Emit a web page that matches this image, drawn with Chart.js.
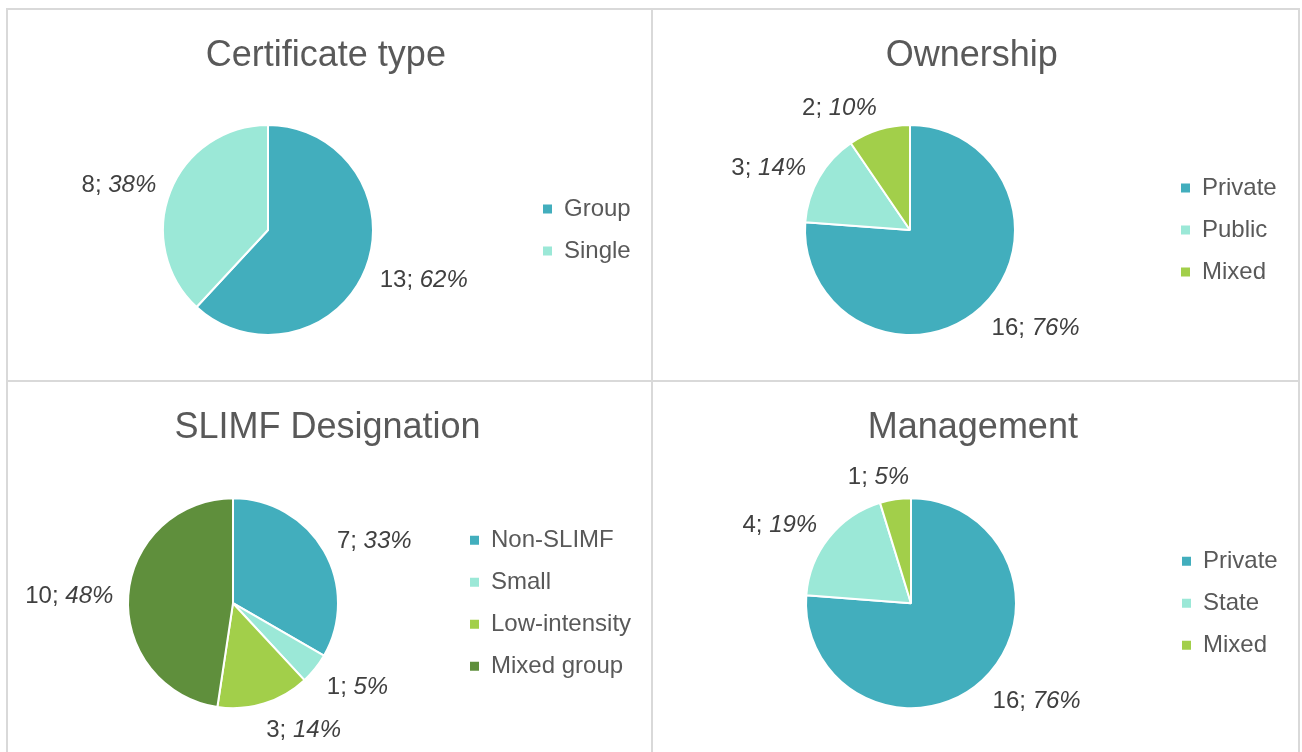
<!DOCTYPE html>
<html>
<head>
<meta charset="utf-8">
<title>Certificate overview</title>
<script src="https://cdn.jsdelivr.net/npm/chart.js@4.4.1/dist/chart.umd.min.js"></script>
<style>
    html, body { margin: 0; padding: 0; background: #fff; }
    #board { position: relative; width: 1302px; height: 752px; overflow: hidden; }
    .panel { position: absolute; width: 644px; height: 370px; }
    .rule { position: absolute; background: #d9d9d9; }
</style>
</head>
<body>
<div id="board">
    <div class="panel" style="left:8px;top:10px"><canvas id="certificate-chart"></canvas></div>
    <div class="panel" style="left:654px;top:10px"><canvas id="ownership-chart"></canvas></div>
    <div class="panel" style="left:8px;top:382px"><canvas id="slimf-chart"></canvas></div>
    <div class="panel" style="left:654px;top:382px"><canvas id="management-chart"></canvas></div>

    <div class="rule" style="left:6px;top:8px;width:1294px;height:2px"></div>
    <div class="rule" style="left:6px;top:380px;width:1294px;height:2px"></div>
    <div class="rule" style="left:6px;top:8px;width:2px;height:744px"></div>
    <div class="rule" style="left:651px;top:8px;width:2px;height:744px"></div>
    <div class="rule" style="left:1298px;top:8px;width:2px;height:744px"></div>
</div>

<script>
// data
const certificateLabels = ['Group', 'Single'];
const certificateCounts = [13, 8];

const ownershipLabels = ['Private', 'Public', 'Mixed'];
const ownershipCounts = [16, 3, 2];

const slimfLabels = ['Non-SLIMF', 'Small', 'Low-intensity', 'Mixed group'];
const slimfCounts = [7, 1, 3, 10];

const managementLabels = ['Private', 'State', 'Mixed'];
const managementCounts = [16, 4, 1];

const TEAL = '#42aebd';
const MINT = '#9be8d7';
const LIME = '#a2cf4a';
const MOSS = '#5f8f3c';

const FONT = '"Liberation Sans", Arial, sans-serif';
const TEXT_GREY = '#595959';
const LABEL_GREY = '#404040';
const LEGEND_PADDING = 18;

/**
 * Excel style "value; percent" labels just outside each slice
 */
const outsideLabels = {
    id: 'outsideLabels',
    afterDatasetsDraw: function(chart) {
        const ctx = chart.ctx;
        const values = chart.data.datasets[0].data;
        const total = values.reduce((a, b) => a + b, 0);
        const regular = '24px ' + FONT;
        const italic = 'italic 24px ' + FONT;

        ctx.save();
        ctx.fillStyle = LABEL_GREY;
        ctx.textBaseline = 'middle';
        ctx.textAlign = 'left';

        chart.getDatasetMeta(0).data.forEach((arc, i) => {
            const p = arc.getProps(['x', 'y', 'startAngle', 'endAngle', 'outerRadius'], true);
            const mid = (p.startAngle + p.endAngle) / 2;
            const cos = Math.cos(mid);
            const sin = Math.sin(mid);
            const px = p.x + (p.outerRadius + 15) * cos;
            const py = p.y + (p.outerRadius + 15) * sin;

            const head = values[i] + '; ';
            const tail = Math.round(values[i] / total * 100) + '%';
            ctx.font = regular;
            const headWidth = ctx.measureText(head).width;
            ctx.font = italic;
            const width = headWidth + ctx.measureText(tail).width;

            // push the text box away from the pie, centred when near vertical
            const shift = Math.max(-1, Math.min(1, cos * 3.2));
            const left = px + shift * width / 2 - width / 2;
            const y = py + sin * 10 + 3;

            ctx.font = regular;
            ctx.fillText(head, left, y);
            ctx.font = italic;
            ctx.fillText(tail, left + headWidth, y);
        });
        ctx.restore();
    }
};

/**
 * Build one pie panel
 */
function buildPie(canvasId, title, labels, counts, colors, place) {
    const chart = new Chart(document.getElementById(canvasId), {
        type: 'pie',
        data: {
            labels: labels,
            datasets: [{
                data: counts,
                backgroundColor: colors,
                borderColor: '#ffffff',
                borderWidth: 2,
                radius: 105
            }]
        },
        options: {
            responsive: true,
            maintainAspectRatio: false,
            animation: false,
            events: [],
            layout: { padding: 0 },
            plugins: {
                title: {
                    display: true,
                    text: title,
                    color: TEXT_GREY,
                    font: { family: FONT, size: 36, weight: 'normal' },
                    padding: { top: place.titleTop, bottom: place.titleBottom }
                },
                legend: {
                    position: 'right',
                    fullSize: false,
                    labels: {
                        boxWidth: 9,
                        boxHeight: 9,
                        padding: LEGEND_PADDING,
                        color: TEXT_GREY,
                        font: { family: FONT, size: 24 },
                        generateLabels: function(c) {
                            return Chart.overrides.doughnut.plugins.legend.labels.generateLabels(c)
                                .map(item => Object.assign(item, { lineWidth: 0 }));
                        }
                    }
                },
                tooltip: { enabled: false }
            }
        },
        plugins: [outsideLabels]
    });

    // line the pie centre and the legend markers up with the panel
    const legendLeft = place.legendX - LEGEND_PADDING;
    chart.options.layout.padding = {
        top: 0,
        bottom: 0,
        left: 2 * place.pieX - legendLeft,
        right: chart.width - chart.legend.width - legendLeft
    };
    chart.update();
    return chart;
}

buildPie('certificate-chart', 'Certificate type', certificateLabels, certificateCounts,
    [TEAL, MINT], { pieX: 260, legendX: 535, titleTop: 24, titleBottom: 2.8 });

buildPie('ownership-chart', 'Ownership', ownershipLabels, ownershipCounts,
    [TEAL, MINT, LIME], { pieX: 256, legendX: 527, titleTop: 24, titleBottom: 2.8 });

buildPie('slimf-chart', 'SLIMF Designation', slimfLabels, slimfCounts,
    [TEAL, MINT, LIME, MOSS], { pieX: 225, legendX: 462, titleTop: 24.4, titleBottom: 4.8 });

buildPie('management-chart', 'Management', managementLabels, managementCounts,
    [TEAL, MINT, LIME], { pieX: 257, legendX: 528, titleTop: 24.4, titleBottom: 4.8 });
</script>
</body>
</html>
